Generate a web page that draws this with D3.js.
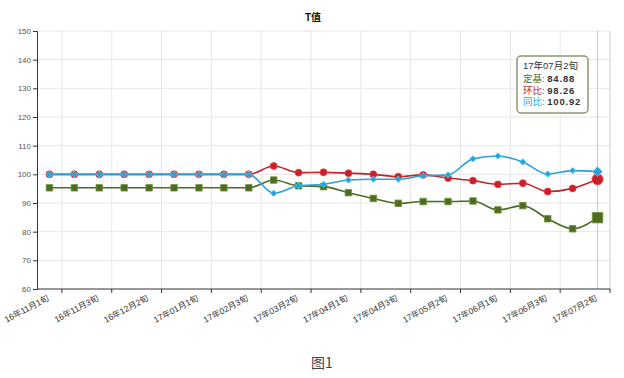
<!DOCTYPE html>
<html>
<head>
<meta charset="utf-8">
<script src="https://cdn.jsdelivr.net/npm/d3@7/dist/d3.min.js"></script>
<style>
  body { margin: 0; background: #fff; }
  svg { display: block; font-family: "Liberation Sans", "Noto Sans CJK SC", sans-serif; }
</style>
</head>
<body>
<div id="container"></div>
<script>
/* DATA */
const categories = [
  "16年11月1旬", "16年11月2旬", "16年11月3旬", "16年12月1旬", "16年12月2旬", "16年12月3旬",
  "17年01月1旬", "17年02月2旬", "17年02月3旬", "17年03月1旬", "17年03月2旬", "17年03月3旬",
  "17年04月1旬", "17年04月2旬", "17年04月3旬", "17年05月1旬", "17年05月2旬", "17年05月3旬",
  "17年06月1旬", "17年06月2旬", "17年06月3旬", "17年07月1旬", "17年07月2旬"
];
// 定基
const dingji = [95.3, 95.3, 95.3, 95.3, 95.3, 95.3, 95.3, 95.3, 95.3,
  98.0, 96.0, 95.7, 93.6, 91.6, 89.9, 90.5, 90.5, 90.7, 87.6, 89.1, 84.5, 81.0, 84.88];
// 环比
const huanbi = [100, 100, 100, 100, 100, 100, 100, 100, 100,
  102.9, 100.6, 100.7, 100.4, 100.0, 99.2, 99.8, 98.7, 97.8, 96.5, 96.9, 94.0, 95.1, 98.26];
// 同比
const tongbi = [100, 100, 100, 100, 100, 100, 100, 100, 100,
  93.4, 96.0, 96.5, 98.0, 98.3, 98.3, 99.5, 99.8, 105.4, 106.4, 104.3, 100.1, 101.3, 100.92];
const yTicks = [60, 70, 80, 90, 100, 110, 120, 130, 140, 150];

const width = 624, height = 378,
      margin = {top: 31, bottom: 89, left: 37, right: 14};

const series = [
  {name: "定基", values: dingji, color: "#4e6b24", symbol: d3.symbolSquare, size: 42, lastSize: 110},
  {name: "环比", values: huanbi, color: "#c1232b", symbol: d3.symbolCircle, size: 38, lastSize: 95},
  {name: "同比", values: tongbi, color: "#2b9fd8", symbol: d3.symbolDiamond2, size: 26, lastSize: 60}
];

const svg = d3.select("#container").append("svg")
  .attr("width", width).attr("height", height);

// scales
const xBand = d3.scaleBand()
  .domain(categories)
  .range([margin.left, width - margin.right]);
const xScale = d => xBand(d) + xBand.bandwidth() / 2;

const yScale = d3.scaleLinear()
  .domain([60, 150])
  .range([height - margin.bottom, margin.top]);

// grid
const grid = svg.append("g");
grid.selectAll("line.h")
  .data(yTicks.slice(1))
  .join("line")
  .attr("x1", margin.left).attr("x2", width - margin.right)
  .attr("y1", d => yScale(d)).attr("y2", d => yScale(d))
  .attr("stroke", "#e6e6e6");

const tickCats = categories.filter((d, i) => i % 2 === 0);
grid.selectAll("line.v")
  .data(tickCats)
  .join("line")
  .attr("x1", d => xBand(d) + xBand.bandwidth()).attr("x2", d => xBand(d) + xBand.bandwidth())
  .attr("y1", margin.top).attr("y2", height - margin.bottom)
  .attr("stroke", "#e6e6e6");
grid.append("line")
  .attr("x1", width - margin.right).attr("x2", width - margin.right)
  .attr("y1", margin.top).attr("y2", height - margin.bottom)
  .attr("stroke", "#d6d6d6");

// axis pointer on last category
const lastCat = categories[categories.length - 1];
svg.append("line")
  .attr("x1", xScale(lastCat)).attr("x2", xScale(lastCat))
  .attr("y1", margin.top).attr("y2", height - margin.bottom)
  .attr("stroke", "#c8c8c8");

// axes
const yAxis = d3.axisLeft(yScale).tickValues(yTicks).tickSize(4).tickPadding(2);
const yAxisGroup = svg.append("g")
  .attr("transform", `translate(${margin.left},0)`)
  .call(yAxis);
yAxisGroup.selectAll("text").attr("font-size", 8).attr("fill", "#555");
yAxisGroup.selectAll("line, path").attr("stroke", "#333");

const xAxisGroup = svg.append("g")
  .attr("transform", `translate(0,${height - margin.bottom})`);
xAxisGroup.append("line")
  .attr("x1", margin.left).attr("x2", width - margin.right)
  .attr("stroke", "#333");
xAxisGroup.selectAll("line.tick")
  .data(tickCats)
  .join("line")
  .attr("x1", d => xBand(d) + xBand.bandwidth()).attr("x2", d => xBand(d) + xBand.bandwidth())
  .attr("y1", 0).attr("y2", 4)
  .attr("stroke", "#333");
xAxisGroup.selectAll("text")
  .data(tickCats)
  .join("text")
  .attr("transform", d => `translate(${xScale(d)},11) rotate(-28)`)
  .attr("text-anchor", "end")
  .attr("font-size", 8.5)
  .attr("fill", "#333")
  .text(d => d);

// lines
const line = d3.line()
  .x((d, i) => xScale(categories[i]))
  .y(d => yScale(d))
  .curve(d3.curveMonotoneX);

series.forEach(s => {
  const g = svg.append("g");
  g.append("path")
    .attr("d", line(s.values))
    .attr("fill", "none")
    .attr("stroke", s.color)
    .attr("stroke-width", 1.6);
  g.selectAll("path.mark")
    .data(s.values)
    .join("path")
    .attr("class", "mark")
    .attr("transform", (d, i) => `translate(${xScale(categories[i])},${yScale(d)})`)
    .attr("d", (d, i) => d3.symbol().type(s.symbol)
      .size(i === s.values.length - 1 ? s.lastSize : s.size)())
    .attr("fill", s.color)
    .attr("stroke", d3.color(s.color).brighter(0.9))
    .attr("stroke-width", 0.8);
});

// title
svg.append("text")
  .attr("x", 313).attr("y", 21)
  .attr("text-anchor", "middle")
  .attr("font-size", 10)
  .attr("font-weight", "bold")
  .attr("fill", "#111")
  .text("T值");

// tooltip
const tip = svg.append("g").attr("transform", "translate(517,56)");
tip.append("rect")
  .attr("width", 71).attr("height", 57).attr("rx", 4)
  .attr("fill", "#fff").attr("stroke", "#8a9870").attr("stroke-width", 1.5);
tip.append("text").attr("x", 6).attr("y", 13)
  .attr("font-size", 9.5).attr("fill", "#333").text(lastCat);
series.forEach((s, k) => {
  const t = tip.append("text").attr("x", 6).attr("y", 26 + k * 11.5).attr("font-size", 9.5);
  t.append("tspan").attr("fill", s.color).text(s.name + ": ");
  t.append("tspan").attr("fill", "#333").attr("font-weight", "bold")
    .attr("letter-spacing", 0.8)
    .text(s.values[s.values.length - 1].toFixed(2));
});

// caption
svg.append("text")
  .attr("x", 322).attr("y", 368)
  .attr("text-anchor", "middle")
  .attr("font-size", 14)
  .attr("fill", "#444")
  .attr("font-family", "'Noto Sans CJK SC', sans-serif")
  .text("图1");
</script>
</body>
</html>
